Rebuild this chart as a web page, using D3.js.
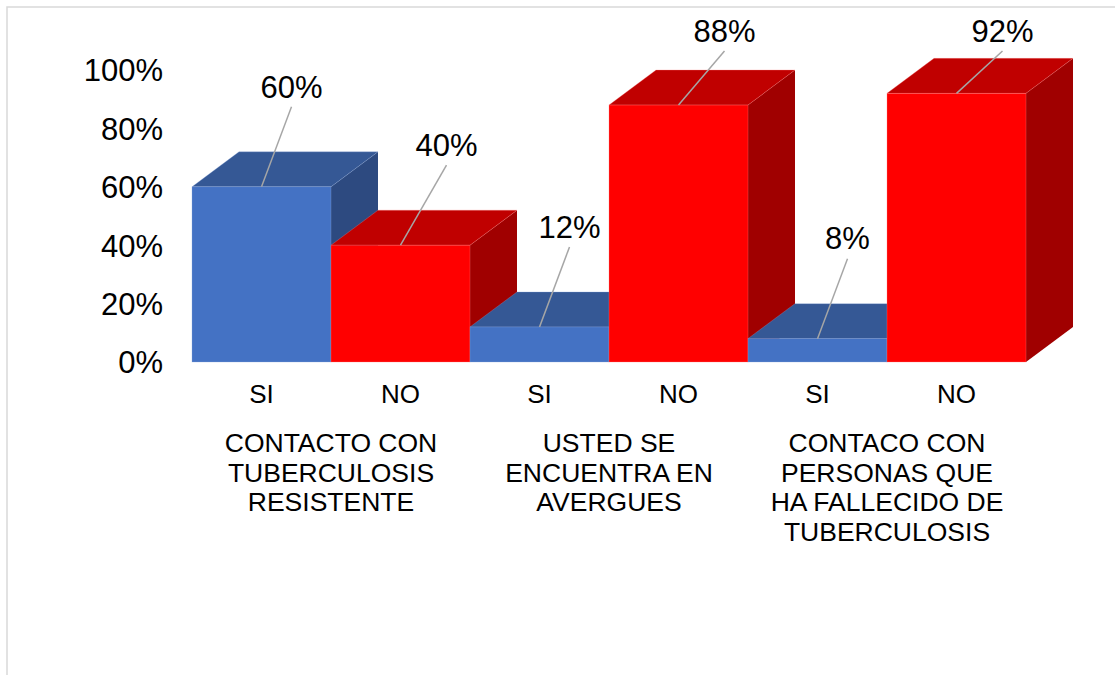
<!DOCTYPE html>
<html>
<head>
<meta charset="utf-8">
<script src="https://cdn.jsdelivr.net/npm/d3@7"></script>
<style>
  body { margin: 0; background: #fff; }
  text { font-family: "Liberation Sans", Arial, sans-serif; fill: #000; }
</style>
</head>
<body>
<div id="chart"></div>
<script>
// data
const groups = [
    ["CONTACTO CON", "TUBERCULOSIS", "RESISTENTE"],
    ["USTED SE", "ENCUENTRA EN", "AVERGUES"],
    ["CONTACO CON", "PERSONAS QUE", "HA FALLECIDO DE", "TUBERCULOSIS"]
]
const series = ["SI", "NO"]
const siValues = [0.60, 0.12, 0.08]
const noValues = [0.40, 0.88, 0.92]
const yTicks = [0, 0.2, 0.4, 0.6, 0.8, 1]

const W = 1115, H = 675
const depth = {x: 47, y: -35}
const colors = {
    SI: {front: "#4472c4", top: "#355895", side: "#2d4a80", edge: "#8faadc"},
    NO: {front: "#ff0000", top: "#c00000", side: "#a00000", edge: "#ff8080"}
}

// flatten into one bar per (group, series)
var bars = []
groups.forEach((g, i) => {
    bars.push({key: i + "-SI", group: i, s: "SI", v: siValues[i]})
    bars.push({key: i + "-NO", group: i, s: "NO", v: noValues[i]})
})

var svg = d3.select("#chart").append("svg")
    .attr("width", W)
    .attr("height", H)

svg.append("rect")
    .attr("x", 7).attr("y", 7)
    .attr("width", W + 20).attr("height", H + 20)
    .attr("fill", "none")
    .attr("stroke", "#d9d9d9")
    .attr("stroke-width", 1.5)

var x = d3.scaleBand()
    .domain(bars.map(d => d.key))
    .range([192, 1026])
    .padding(0)
var y = d3.scaleLinear()
    .domain([0, 1])
    .range([362, 70])

// y axis
var yAxis = svg.append("g")
    .attr("transform", `translate(192, 0)`)
    .call(d3.axisLeft(y).tickValues(yTicks).tickFormat(d3.format(".0%")).tickSize(0).tickPadding(29))
yAxis.select(".domain").remove()
yAxis.selectAll("text")
    .attr("font-size", 31)
    .attr("font-family", '"Liberation Sans", Arial, sans-serif')
    .attr("fill", "#000")
    .attr("dy", "0.35em")

// 3d bars, painted left to right
var barG = svg.append("g")
bars.forEach(d => {
    var x0 = x(d.key), x1 = x0 + x.bandwidth()
    var y0 = y(0), y1 = y(d.v)
    var c = colors[d.s]
    var g = barG.append("g")
    // side
    g.append("polygon")
        .attr("points", [[x1, y0], [x1 + depth.x, y0 + depth.y], [x1 + depth.x, y1 + depth.y], [x1, y1]].join(" "))
        .attr("fill", c.side)
    // top
    g.append("polygon")
        .attr("points", [[x0, y1], [x0 + depth.x, y1 + depth.y], [x1 + depth.x, y1 + depth.y], [x1, y1]].join(" "))
        .attr("fill", c.top)
        .attr("stroke", c.edge).attr("stroke-width", 0.6).attr("stroke-opacity", 0.5)
    // front
    g.append("rect")
        .attr("x", x0).attr("y", y1)
        .attr("width", x1 - x0).attr("height", y0 - y1)
        .attr("fill", c.front)
        .attr("stroke", c.edge).attr("stroke-width", 0.6).attr("stroke-opacity", 0.5)
})

// data labels with leader lines
var labG = svg.append("g")
bars.forEach(d => {
    var cx = x(d.key) + x.bandwidth() / 2
    var top = y(d.v)
    var lx = cx + (d.s === "NO" ? 46 : 30)
    var ly = Math.max(top - 100, 31)
    labG.append("line")
        .attr("x1", cx).attr("y1", top)
        .attr("x2", lx).attr("y2", ly + 20)
        .attr("stroke", "#a6a6a6")
        .attr("stroke-width", 1.5)
    labG.append("text")
        .attr("x", lx).attr("y", ly)
        .attr("dy", "0.35em")
        .attr("text-anchor", "middle")
        .attr("font-size", 31)
        .text(d3.format(".0%")(d.v))
})

// series labels
svg.append("g").selectAll("text")
    .data(bars)
    .join("text")
    .attr("x", d => x(d.key) + x.bandwidth() / 2)
    .attr("y", 403)
    .attr("text-anchor", "middle")
    .attr("font-size", 26)
    .text(d => d.s)

// group labels
var gl = svg.append("g").selectAll("text")
    .data(groups)
    .join("text")
    .attr("x", (d, i) => x(i + "-SI") + x.bandwidth())
    .attr("y", 452)
    .attr("text-anchor", "middle")
    .attr("font-size", 26.5)
gl.selectAll("tspan")
    .data(d => d)
    .join("tspan")
    .attr("x", function() { return d3.select(this.parentNode).attr("x") })
    .attr("dy", (d, i) => i === 0 ? 0 : 29.6)
    .text(d => d)
</script>
</body>
</html>
